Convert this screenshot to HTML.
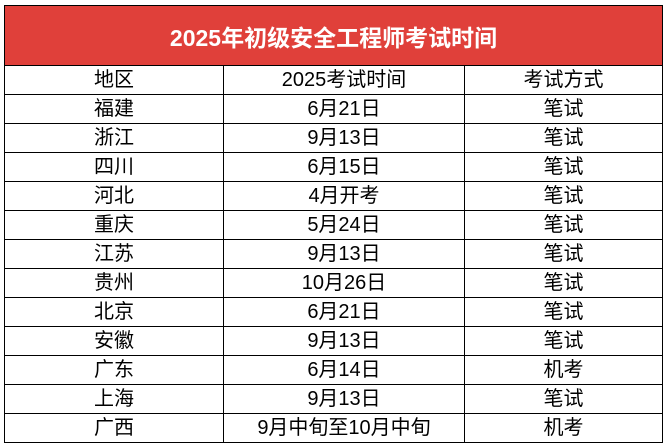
<!DOCTYPE html><html><head><style>
body{margin:0;width:669px;height:448px;background:#fff;position:relative;overflow:hidden;font-family:"Liberation Sans","Noto Sans CJK SC",sans-serif}
.h{position:absolute;left:4px;top:5px;width:657px;height:59px;background:#e0403a;border:1px solid #000;color:#fff;font-weight:bold;font-size:23px;display:flex;align-items:center;justify-content:center}
table{position:absolute;left:4px;top:65px;border-collapse:collapse;width:659px}
td{border:1px solid #000;height:28px;padding:0;text-align:center;font-size:20px;color:#000;line-height:28px}
</style></head><body>
<div class="h">2025年初级安全工程师考试时间</div>
<table>
<tr><td style="width:218px">地区</td><td style="width:240px">2025考试时间</td><td>考试方式</td></tr>
<tr><td>福建</td><td>6月21日</td><td>笔试</td></tr>
<tr><td>浙江</td><td>9月13日</td><td>笔试</td></tr>
<tr><td>四川</td><td>6月15日</td><td>笔试</td></tr>
<tr><td>河北</td><td>4月开考</td><td>笔试</td></tr>
<tr><td>重庆</td><td>5月24日</td><td>笔试</td></tr>
<tr><td>江苏</td><td>9月13日</td><td>笔试</td></tr>
<tr><td>贵州</td><td>10月26日</td><td>笔试</td></tr>
<tr><td>北京</td><td>6月21日</td><td>笔试</td></tr>
<tr><td>安徽</td><td>9月13日</td><td>笔试</td></tr>
<tr><td>广东</td><td>6月14日</td><td>机考</td></tr>
<tr><td>上海</td><td>9月13日</td><td>笔试</td></tr>
<tr><td>广西</td><td>9月中旬至10月中旬</td><td>机考</td></tr>
</table>
</body></html>
